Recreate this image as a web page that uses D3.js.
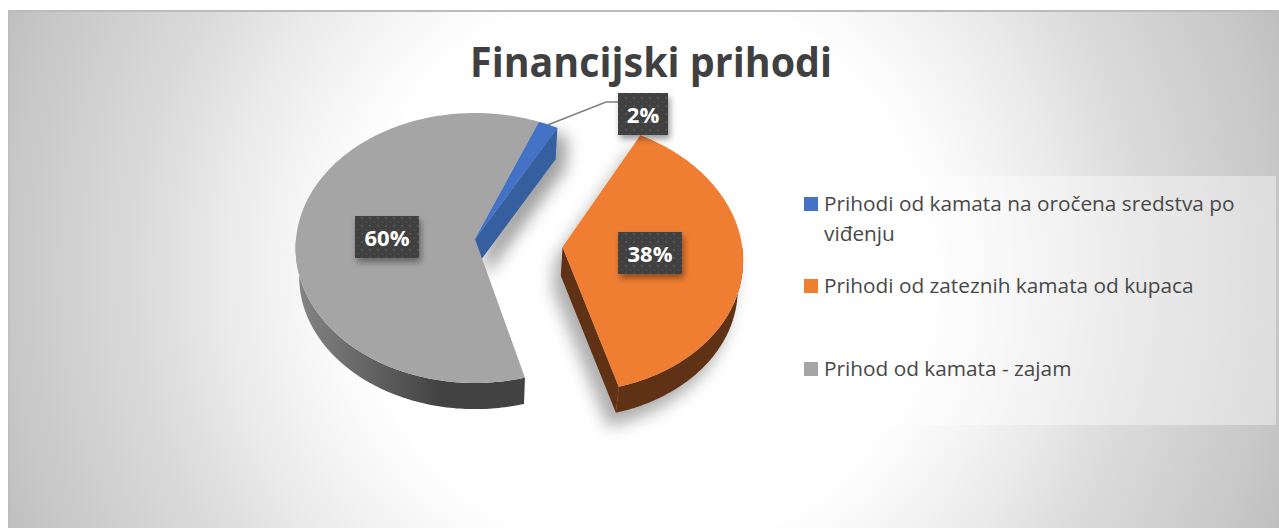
<!DOCTYPE html>
<html>
<head>
<meta charset="utf-8">
<script src="https://cdnjs.cloudflare.com/ajax/libs/d3/7.8.5/d3.min.js"></script>
<style>
  html, body { margin: 0; padding: 0; background: #fff; overflow: hidden; }
  text { font-family: "Open Sans", sans-serif; }
</style>
</head>
<body>
<script>
// chart values
const categories = ["Prihodi od kamata na oročena sredstva po viđenju", "Prihodi od zateznih kamata od kupaca", "Prihod od kamata - zajam"];
const values = [1.9, 37.7, 60.4];
const title = "Financijski prihodi";

const topColors = ["#4472c4", "#ef7e30", "#a5a5a5"];
const wallColors = ["#365f9f", "#5f3013", "url(#grayWall)"];

const width = 1279, height = 528;
const cx = 475, cy = 239;            // pie centre on screen
const rx = 179, ry = 134.4;          // radii of the tilted disc
const persp = 0.0667;                // how much nearer parts grow
const wallDepth = 29, wallScale = 0.98;
const rad = Math.PI / 180;

const svg = d3.select("body")
    .append("svg")
    .attr("width", width)
    .attr("height", height)
    .style("display", "block");

const defs = svg.append("defs");

// background, white in the middle going grey to the corners
const bg = defs.append("radialGradient")
    .attr("id", "bg")
    .attr("gradientUnits", "userSpaceOnUse")
    .attr("cx", 643).attr("cy", 270).attr("r", 700);
[[0, "#fff"], [0.40, "#fff"], [0.505, "#f5f5f5"], [0.61, "#e9e9e9"], [0.705, "#dcdcdc"], [0.905, "#c8c8c8"], [1, "#bdbdbd"]].forEach(d => {
    bg.append("stop").attr("offset", d[0]).attr("stop-color", d[1]);
});

const grayWall = defs.append("linearGradient")
    .attr("id", "grayWall")
    .attr("gradientUnits", "userSpaceOnUse")
    .attr("x1", 295).attr("x2", 440).attr("y1", 0).attr("y2", 0);
grayWall.append("stop").attr("offset", 0).attr("stop-color", "#868686");
grayWall.append("stop").attr("offset", 1).attr("stop-color", "#424242");

const dots = defs.append("pattern")
    .attr("id", "dots")
    .attr("patternUnits", "userSpaceOnUse")
    .attr("width", 8).attr("height", 8);
dots.append("rect").attr("width", 8).attr("height", 8).attr("fill", "#404040");
dots.append("circle").attr("cx", 2).attr("cy", 2).attr("r", 0.9).attr("fill", "#5a5a5a");
dots.append("circle").attr("cx", 6).attr("cy", 6).attr("r", 0.9).attr("fill", "#4e4e4e");

function addShadow(id, dx, dy, blur, opacity) {
    defs.append("filter")
        .attr("id", id)
        .attr("x", "-40%").attr("y", "-40%").attr("width", "180%").attr("height", "180%")
        .append("feDropShadow")
        .attr("dx", dx).attr("dy", dy).attr("stdDeviation", blur)
        .attr("flood-color", "#000").attr("flood-opacity", opacity);
}
addShadow("blueShadow", 10, 9, 8, 0.38);
addShadow("orangeShadow", -8, 14, 8, 0.32);
addShadow("labelShadow", 2, 4, 3, 0.4);

svg.append("rect")
    .attr("x", 8).attr("y", 11)
    .attr("width", width - 8).attr("height", height - 11)
    .attr("fill", "url(#bg)");
svg.append("rect")
    .attr("x", 8).attr("y", 10)
    .attr("width", width - 8).attr("height", 2)
    .attr("fill", "#bbb");
svg.append("rect")
    .attr("x", 8).attr("y", 11)
    .attr("width", 2).attr("height", height - 11)
    .attr("fill", "#bbb")
    .attr("opacity", 0.6);

// title
svg.append("text")
    .attr("x", 651).attr("y", 77)
    .attr("text-anchor", "middle")
    .attr("font-size", 41)
    .attr("font-weight", 700)
    .attr("fill", "#404040")
    .attr("textLength", 362)
    .attr("lengthAdjust", "spacingAndGlyphs")
    .text(title);

// slices: d3.pie gives the angles, the disc starts a bit past 12 o'clock
const pie = d3.pie().sort(null).value(d => d)
    .startAngle(22.3 * rad)
    .endAngle((22.3 + 360) * rad);
const slices = pie(values);

// only the orange slice is pulled out of the pie
const explode = [[0, 0], [0.487, 0.059], [0, 0]];

function project(u, v, lower) {
    const k = 1 - persp * v;
    let x = rx * u / k, y = ry * v / k;
    if (lower) {
        x = x * wallScale;
        y = y * wallScale + wallDepth;
    }
    return [cx + x, cy + y];
}

function rimPoint(a, i, lower) {
    return project(Math.sin(a) + explode[i][0], -Math.cos(a) + explode[i][1], lower);
}

function apex(i, lower) {
    return project(explode[i][0], explode[i][1], lower);
}

function arcAngles(a0, a1) {
    const n = Math.ceil((a1 - a0) / (1 * rad));
    return d3.range(n + 1).map(k => a0 + (a1 - a0) * k / n);
}

const line = d3.line().curve(d3.curveLinear);

function topPath(s, i) {
    return line([apex(i)].concat(arcAngles(s.startAngle, s.endAngle).map(a => rimPoint(a, i)))) + "Z";
}

// outer wall of a slice, only the part turned towards the viewer
function outerWall(s, i) {
    const a0 = Math.max(s.startAngle, 90 * rad), a1 = Math.min(s.endAngle, 270 * rad);
    if (a1 <= a0) return "";
    const as = arcAngles(a0, a1);
    return line(as.map(a => rimPoint(a, i)).concat(as.slice().reverse().map(a => rimPoint(a, i, true)))) + "Z";
}

function cutWall(a, i) {
    return line([apex(i), rimPoint(a, i), rimPoint(a, i, true), apex(i, true)]) + "Z";
}

const pieG = svg.append("g");

// blue and orange throw a soft shadow on the background
const blueG = pieG.append("g").attr("filter", "url(#blueShadow)");
blueG.append("path")
    .attr("d", cutWall(slices[0].endAngle, 0))
    .attr("fill", wallColors[0]);
blueG.append("path")
    .attr("d", topPath(slices[0], 0))
    .attr("fill", topColors[0]);

const orangeG = pieG.append("g").attr("filter", "url(#orangeShadow)");
orangeG.append("path")
    .attr("d", outerWall(slices[1], 1))
    .attr("fill", wallColors[1]);
orangeG.append("path")
    .attr("d", cutWall(slices[1].endAngle, 1))
    .attr("fill", wallColors[1]);
orangeG.append("path")
    .attr("d", topPath(slices[1], 1))
    .attr("fill", topColors[1]);

pieG.append("path")
    .attr("d", outerWall(slices[2], 2))
    .attr("fill", wallColors[2]);
pieG.append("path")
    .attr("d", topPath(slices[2], 2))
    .attr("fill", topColors[2]);
// blue top face sits over the grey one
pieG.append("path")
    .attr("d", topPath(slices[0], 0))
    .attr("fill", topColors[0]);

// leader line of the 2% label
const midBlue = (slices[0].startAngle + slices[0].endAngle) / 2;
const leaderStart = rimPoint(midBlue, 0);
svg.append("path")
    .attr("d", line([leaderStart, [606, 102], [620, 102]]))
    .attr("fill", "none")
    .attr("stroke", "#7f7f7f")
    .attr("stroke-width", 1.5);

// data labels
const labelBoxes = [
    {x: 618, y: 93, w: 50},
    {x: 618, y: 232, w: 64},
    {x: 355, y: 216, w: 64}
];
slices.forEach((s, i) => {
    const b = labelBoxes[i];
    svg.append("rect")
        .attr("x", b.x).attr("y", b.y)
        .attr("width", b.w).attr("height", 42)
        .attr("fill", "url(#dots)")
        .attr("filter", "url(#labelShadow)");
    svg.append("text")
        .attr("x", b.x + b.w / 2).attr("y", b.y + 30)
        .attr("text-anchor", "middle")
        .attr("font-size", 22)
        .attr("font-weight", 700)
        .attr("fill", "#fff")
        .text(Math.round(s.value) + "%");
});

// legend
svg.append("rect")
    .attr("x", 764).attr("y", 176)
    .attr("width", 512).attr("height", 249)
    .attr("fill", "#fff")
    .attr("opacity", 0.4);

const color = d3.scaleOrdinal().domain(categories).range(topColors);
const legendLines = [["Prihodi od kamata na oročena sredstva po", "viđenju"], [categories[1]], [categories[2]]];
const legendY = [197, 279, 362];

categories.forEach((c, i) => {
    svg.append("rect")
        .attr("x", 804).attr("y", legendY[i])
        .attr("width", 14).attr("height", 14)
        .attr("fill", color(c));
    legendLines[i].forEach((t, j) => {
        svg.append("text")
            .attr("x", 824).attr("y", legendY[i] + 13.5 + j * 30)
            .attr("font-size", 20.8)
            .attr("fill", "#484848")
            .text(t);
    });
});
</script>
</body>
</html>
